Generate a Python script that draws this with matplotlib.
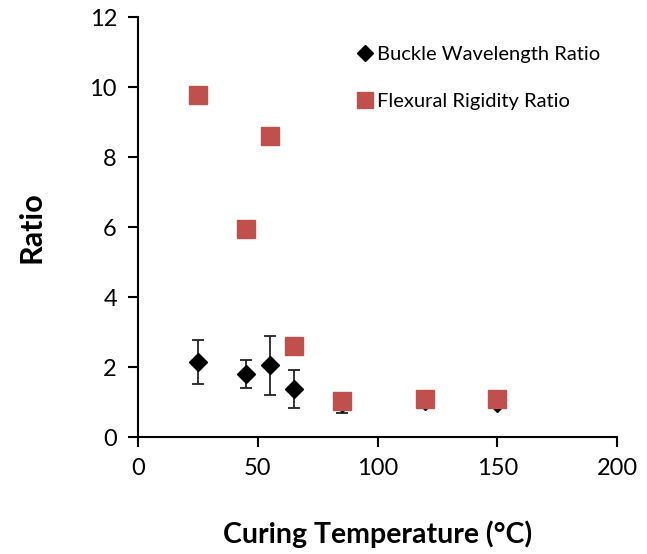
import matplotlib
matplotlib.use("Agg")
from matplotlib import pyplot as plt
from matplotlib.lines import Line2D
import numpy as np

plt.rcParams['font.family'] = ['Lato', 'DejaVu Sans']

# buckle wavelength ratio
temp_bw = [25, 45, 55, 65, 85, 120, 150]
ratio_bw = [2.14, 1.80, 2.05, 1.38, 0.98, 1.02, 0.97]
err_bw = [0.63, 0.40, 0.85, 0.55, 0.29, 0.05, 0.05]

# flexural rigidity ratio
temp_fr = [25, 45, 55, 65, 85, 120, 150]
ratio_fr = [9.78, 5.95, 8.6, 2.6, 1.02, 1.08, 1.1]

fig = plt.figure(figsize=(6.47, 5.54), dpi=100)
ax = fig.add_axes([0.213, 0.211, 0.741, 0.758])

ax.errorbar(temp_bw, ratio_bw, yerr=err_bw, fmt='D', color='black', ms=9,
            ecolor='#222222', elinewidth=1.3, capsize=4, capthick=1.3, zorder=2)
ax.plot(temp_fr, ratio_fr, ls='none', marker='s', ms=13, color='#C0504D', zorder=3)

ax.set_xlim(0, 200)
ax.set_ylim(0, 12)
ax.set_xticks([0, 50, 100, 150, 200])
ax.set_yticks([0, 2, 4, 6, 8, 10, 12])
ax.spines['top'].set_visible(False)
ax.spines['right'].set_visible(False)
ax.spines['left'].set_linewidth(1.5)
ax.spines['bottom'].set_linewidth(1.5)
ax.tick_params(direction='out', length=7, width=1.5, labelsize=17, pad=8)

ax.set_xlabel('Curing Temperature (°C)', fontsize=20.5, fontweight='bold', labelpad=30)
ax.set_ylabel('Ratio', fontsize=22, fontweight='bold', labelpad=32)

handles = [Line2D([], [], ls='none', marker='D', color='black', ms=8),
           Line2D([], [], ls='none', marker='s', color='#C0504D', ms=12)]
ax.legend(handles, ['Buckle Wavelength Ratio', 'Flexural Rigidity Ratio'],
          loc='upper left', bbox_to_anchor=(0.415, 0.975), frameon=False,
          fontsize=14.5, handletextpad=0.1, labelspacing=1.5, handlelength=1.0)

fig.savefig("out.png", dpi=100)
